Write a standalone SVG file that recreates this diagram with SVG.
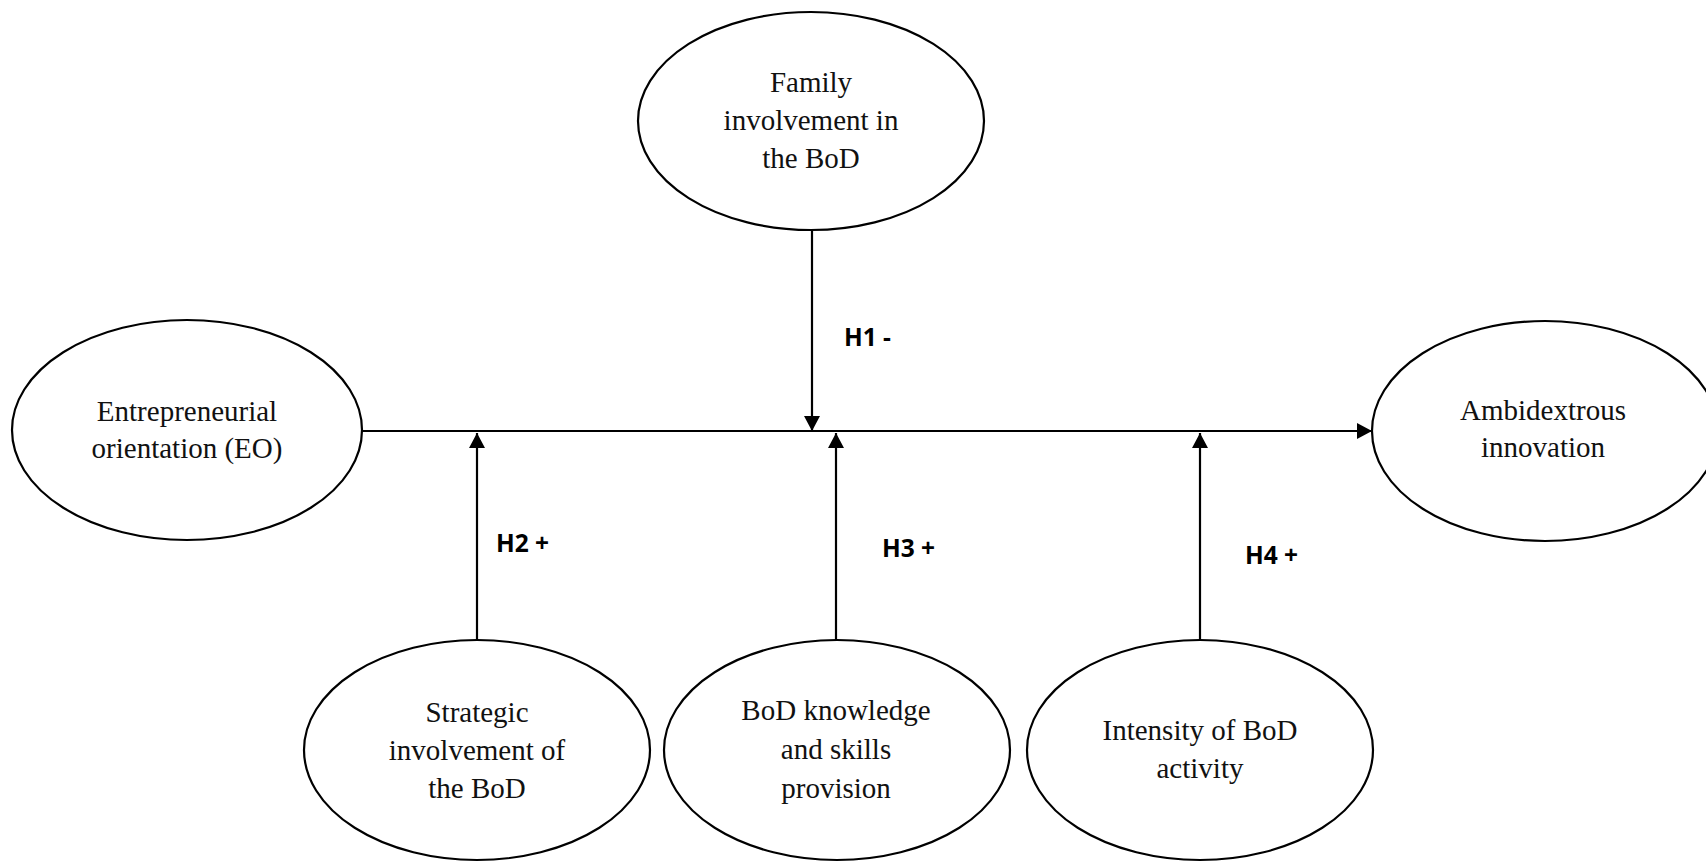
<svg xmlns="http://www.w3.org/2000/svg" width="1706" height="862" viewBox="0 0 1706 862">
<style>
.node ellipse{fill:#fff;stroke:#000;stroke-width:2.2}
.lbl{font-family:"Liberation Serif","Times New Roman",serif;font-size:29px;fill:#111;text-anchor:middle}
.conn line{stroke:#000;stroke-width:2.2}
.h{font-family:"Open Sans","Liberation Sans",sans-serif;font-weight:bold;font-size:24.5px;fill:#000}
</style>
<defs>
<marker id="arr" markerUnits="userSpaceOnUse" markerWidth="16" markerHeight="16" viewBox="0 0 15 16" refX="15" refY="8" orient="auto">
<path d="M0,0 L15,8 L0,16 z" fill="#000"/>
</marker>
</defs>
<rect width="1706" height="862" fill="#fff"/>
<g class="conn" id="connectors">
<line x1="362" y1="431" x2="1372" y2="431" marker-end="url(#arr)"/>
<line x1="812" y1="230" x2="812" y2="431" marker-end="url(#arr)"/>
<line x1="477" y1="640" x2="477" y2="433" marker-end="url(#arr)"/>
<line x1="836" y1="640" x2="836" y2="433" marker-end="url(#arr)"/>
<line x1="1200" y1="640" x2="1200" y2="433" marker-end="url(#arr)"/>
<text class="h" x="844" y="346">H1 -</text>
<text class="h" x="496" y="552">H2 +</text>
<text class="h" x="882" y="557">H3 +</text>
<text class="h" x="1245" y="564">H4 +</text>
</g>
<g class="node" id="eo">
<ellipse cx="187" cy="430" rx="175" ry="110"/>
<text class="lbl" x="187" y="421">Entrepreneurial</text>
<text class="lbl" x="187" y="458">orientation (EO)</text>
</g>
<g class="node" id="family">
<ellipse cx="811" cy="121" rx="173" ry="109"/>
<text class="lbl" x="811" y="92">Family</text>
<text class="lbl" x="811" y="130">involvement in</text>
<text class="lbl" x="811" y="168">the BoD</text>
</g>
<g class="node" id="ambi">
<ellipse cx="1545" cy="431" rx="173" ry="110"/>
<text class="lbl" x="1543" y="420">Ambidextrous</text>
<text class="lbl" x="1543" y="457">innovation</text>
</g>
<g class="node" id="strategic">
<ellipse cx="477" cy="750" rx="173" ry="110"/>
<text class="lbl" x="477" y="722">Strategic</text>
<text class="lbl" x="477" y="760">involvement of</text>
<text class="lbl" x="477" y="798">the BoD</text>
</g>
<g class="node" id="knowledge">
<ellipse cx="837" cy="750" rx="173" ry="110"/>
<text class="lbl" x="836" y="720">BoD knowledge</text>
<text class="lbl" x="836" y="759">and skills</text>
<text class="lbl" x="836" y="798">provision</text>
</g>
<g class="node" id="intensity">
<ellipse cx="1200" cy="750" rx="173" ry="110"/>
<text class="lbl" x="1200" y="740">Intensity of BoD</text>
<text class="lbl" x="1200" y="778">activity</text>
</g>
</svg>
